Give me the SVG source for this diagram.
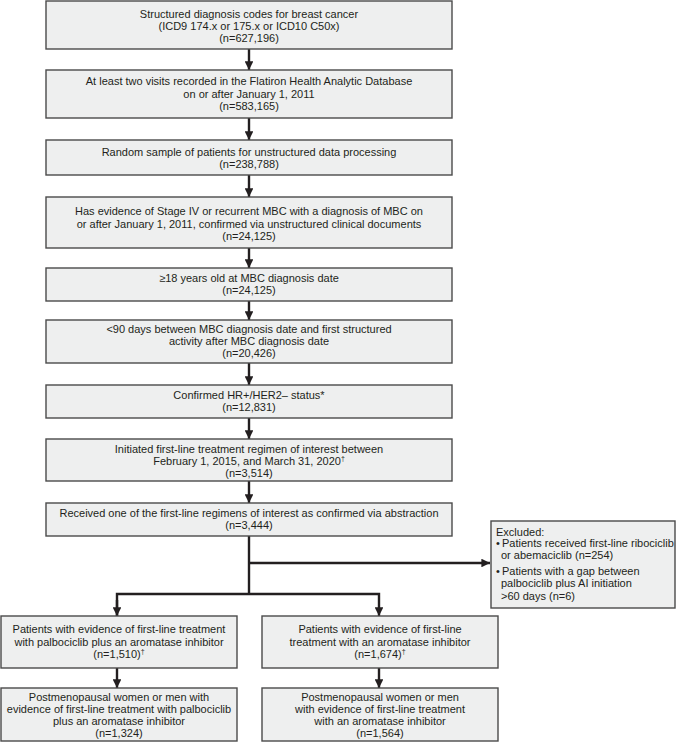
<svg xmlns="http://www.w3.org/2000/svg" width="676" height="742" viewBox="0 0 676 742">
<style>
.box{fill:#eeefef;stroke:#4a4a4a;stroke-width:1.4}
text{font-family:"Liberation Sans",Arial,sans-serif;font-size:11px;fill:#231f20}
.c{text-anchor:middle}
.sup{font-size:7px}
.ln{stroke:#231f20;stroke-width:2.4;fill:none}
</style>
<defs>
<marker id="ah" viewBox="0 0 10 10" refX="10" refY="5" markerWidth="3.6" markerHeight="3.6" orient="auto" markerUnits="strokeWidth">
<path d="M0,0 L10,5 L0,10 z" fill="#231f20"/>
</marker>
</defs>
<g id="connectors">
<line class="ln" x1="249" y1="49" x2="249" y2="70" marker-end="url(#ah)"/>
<line class="ln" x1="249" y1="118" x2="249" y2="140" marker-end="url(#ah)"/>
<line class="ln" x1="249" y1="175" x2="249" y2="197" marker-end="url(#ah)"/>
<line class="ln" x1="249" y1="248" x2="249" y2="268" marker-end="url(#ah)"/>
<line class="ln" x1="249" y1="301" x2="249" y2="320" marker-end="url(#ah)"/>
<line class="ln" x1="249" y1="363" x2="249" y2="385" marker-end="url(#ah)"/>
<line class="ln" x1="249" y1="418" x2="249" y2="439" marker-end="url(#ah)"/>
<line class="ln" x1="249" y1="481" x2="249" y2="503" marker-end="url(#ah)"/>
<line class="ln" x1="249" y1="536" x2="249" y2="594"/>
<line class="ln" x1="249" y1="563" x2="490" y2="563" marker-end="url(#ah)"/>
<polyline class="ln" points="117,616 117,594 379,594 379,616" marker-end="url(#ah)"/>
<line class="ln" x1="117" y1="600" x2="117" y2="616" marker-end="url(#ah)"/>
<line class="ln" x1="117" y1="668" x2="117" y2="688" marker-end="url(#ah)"/>
<line class="ln" x1="379" y1="668" x2="379" y2="688" marker-end="url(#ah)"/>
</g>
<g id="n1">
<rect class="box" x="46" y="1" width="406" height="48"/>
<text class="c" x="249" y="18">Structured diagnosis codes for breast cancer</text>
<text class="c" x="249" y="30">(ICD9 174.x or 175.x or ICD10 C50x)</text>
<text class="c" x="249" y="42">(n=627,196)</text>
</g>
<g id="n2">
<rect class="box" x="46" y="70" width="406" height="48"/>
<text class="c" x="249" y="85">At least two visits recorded in the Flatiron Health Analytic Database</text>
<text class="c" x="249" y="98">on or after January 1, 2011</text>
<text class="c" x="249" y="110">(n=583,165)</text>
</g>
<g id="n3">
<rect class="box" x="46" y="140" width="406" height="35"/>
<text class="c" x="249" y="156">Random sample of patients for unstructured data processing</text>
<text class="c" x="249" y="168">(n=238,788)</text>
</g>
<g id="n4">
<rect class="box" x="46" y="197" width="406" height="51"/>
<text class="c" x="249" y="215">Has evidence of Stage IV or recurrent MBC with a diagnosis of MBC on</text>
<text class="c" x="249" y="228">or after January 1, 2011, confirmed via unstructured clinical documents</text>
<text class="c" x="249" y="240">(n=24,125)</text>
</g>
<g id="n5">
<rect class="box" x="46" y="268" width="406" height="33"/>
<text class="c" x="249" y="282">≥18 years old at MBC diagnosis date</text>
<text class="c" x="249" y="294">(n=24,125)</text>
</g>
<g id="n6">
<rect class="box" x="46" y="320" width="406" height="43"/>
<text class="c" x="249" y="333">&lt;90 days between MBC diagnosis date and first structured</text>
<text class="c" x="249" y="345">activity after MBC diagnosis date</text>
<text class="c" x="249" y="357">(n=20,426)</text>
</g>
<g id="n7">
<rect class="box" x="46" y="385" width="406" height="33"/>
<text class="c" x="249" y="399">Confirmed HR+/HER2– status*</text>
<text class="c" x="249" y="411">(n=12,831)</text>
</g>
<g id="n8">
<rect class="box" x="46" y="439" width="406" height="42"/>
<text class="c" x="249" y="453">Initiated first-line treatment regimen of interest between</text>
<text class="c" x="249" y="465">February 1, 2015, and March 31, 2020<tspan class="sup" dy="-4">†</tspan></text>
<text class="c" x="249" y="477">(n=3,514)</text>
</g>
<g id="n9">
<rect class="box" x="46" y="503" width="406" height="33"/>
<text class="c" x="249" y="517">Received one of the first-line regimens of interest as confirmed via abstraction</text>
<text class="c" x="249" y="529">(n=3,444)</text>
</g>
<g id="excluded">
<rect class="box" x="491" y="521" width="184" height="87"/>
<text x="496" y="536">Excluded:</text>
<text x="496" y="547">•</text>
<text x="502" y="547">Patients received first-line ribociclib</text>
<text x="501" y="559">or abemaciclib (n=254)</text>
<text x="496" y="575">•</text>
<text x="502" y="575">Patients with a gap between</text>
<text x="501" y="587">palbociclib plus AI initiation</text>
<text x="501" y="600">&gt;60 days (n=6)</text>
</g>
<g id="n10">
<rect class="box" x="1" y="616" width="236" height="52"/>
<text class="c" x="119" y="633">Patients with evidence of first-line treatment</text>
<text class="c" x="119" y="646">with palbociclib plus an aromatase inhibitor</text>
<text class="c" x="119" y="658">(n=1,510)<tspan class="sup" dy="-4">†</tspan></text>
</g>
<g id="n11">
<rect class="box" x="262" y="616" width="236" height="52"/>
<text class="c" x="380" y="633">Patients with evidence of first-line</text>
<text class="c" x="380" y="646">treatment with an aromatase inhibitor</text>
<text class="c" x="380" y="658">(n=1,674)<tspan class="sup" dy="-4">†</tspan></text>
</g>
<g id="n12">
<rect class="box" x="1" y="688" width="236" height="53"/>
<text class="c" x="119" y="701">Postmenopausal women or men with</text>
<text class="c" x="119" y="713">evidence of first-line treatment with palbociclib</text>
<text class="c" x="119" y="725">plus an aromatase inhibitor</text>
<text class="c" x="119" y="737">(n=1,324)</text>
</g>
<g id="n13">
<rect class="box" x="262" y="688" width="236" height="53"/>
<text class="c" x="380" y="701">Postmenopausal women or men</text>
<text class="c" x="380" y="713">with evidence of first-line treatment</text>
<text class="c" x="380" y="725">with an aromatase inhibitor</text>
<text class="c" x="380" y="737">(n=1,564)</text>
</g>
</svg>
